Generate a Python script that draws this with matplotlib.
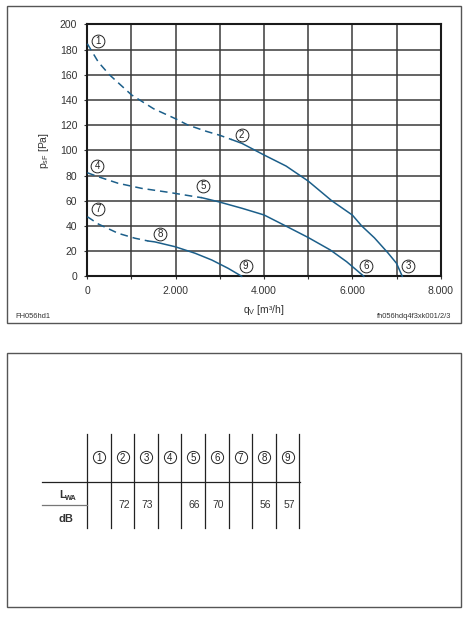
import matplotlib
matplotlib.use("Agg")
import matplotlib.pyplot as plt
from matplotlib.patches import Rectangle

plt.rcParams['font.family'] = ['Liberation Sans', 'DejaVu Sans']
plt.rcParams['mathtext.fontset'] = 'custom'
plt.rcParams['mathtext.rm'] = 'Liberation Sans'
plt.rcParams['mathtext.it'] = 'Liberation Sans:italic'
plt.rcParams['mathtext.bf'] = 'Liberation Sans:bold'

# ---- data ----
# curve 1-2-3
c1_dash_x = [0, 250, 500, 1000, 1500, 2000, 2280, 2700, 3000, 3268]
c1_dash_y = [184.6, 170.0, 160.0, 144.0, 133.0, 125.0, 120.0, 115.0, 111.9, 108.5]
c1_solid_x = [3268, 3500, 4000, 4500, 5000, 5532, 6000, 6211, 6500, 6800, 7000, 7130]
c1_solid_y = [108.5, 105.5, 96.3, 87.5, 75.6, 60.0, 48.6, 40.0, 30.5, 18.8, 10.3, 0]
# curve 4-5-6
c2_dash_x = [0, 250, 700, 1230, 1830, 2440, 2589]
c2_dash_y = [82.2, 79.0, 73.8, 69.8, 66.7, 63.2, 62.4]
c2_solid_x = [2589, 2966, 3500, 4000, 4500, 5000, 5500, 5870, 6260]
c2_solid_y = [62.4, 59.2, 54.0, 48.7, 39.8, 30.8, 20.9, 11.6, 0]
# curve 7-8-9
c3_dash_x = [0, 250, 700, 1080, 1381]
c3_dash_y = [47.3, 41.5, 34.1, 30.2, 28.0]
c3_solid_x = [1381, 1530, 1985, 2440, 2820, 3190, 3495]
c3_solid_y = [28.0, 27.3, 23.5, 18.3, 12.9, 6.3, 0]

# operating point labels
point_ids = ['1', '2', '3', '4', '5', '6', '7', '8', '9']
label_x = [249, 3496, 7268, 226, 2626, 6310, 235, 1653, 3585]
label_y = [186.5, 112.2, 8.5, 87.5, 71.7, 8.5, 53.2, 33.3, 8.2]

x_ticks = [0, 1000, 2000, 3000, 4000, 5000, 6000, 7000, 8000]
x_ticklabels = ['0', '', '2.000', '', '4.000', '', '6.000', '', '8.000']
y_ticks = [0, 20, 40, 60, 80, 100, 120, 140, 160, 180, 200]

# sound power table
lwa_values = ['', '72', '73', '', '66', '70', '', '56', '57']

CURVE_COLOR = '#1c5f8a'
TEXT_COLOR = '#333333'
W, H = 471, 620

fig = plt.figure(figsize=(W / 100, H / 100), dpi=100)

# background layer in pixel coordinates (frames + table)
bg = fig.add_axes([0, 0, 1, 1])
bg.set_xlim(0, W)
bg.set_ylim(H, 0)
bg.axis('off')

bg.add_patch(Rectangle((7, 6), 454, 317, fill=False, ec='#555555', lw=1.0))
bg.add_patch(Rectangle((7, 353), 454, 254, fill=False, ec='#555555', lw=1.0))

bg.text(15, 316, 'FH056hd1', fontsize=5.4, color=TEXT_COLOR, ha='left', va='center')
bg.text(451, 316, 'fh056hdq4f3xk001/2/3', fontsize=5.4, color=TEXT_COLOR, ha='right', va='center')

# table
col_lines = [87.3, 110.7, 134.3, 157.7, 181.3, 205, 228.7, 252.3, 276, 299.3]
for xl in col_lines:
    bg.plot([xl, xl], [434, 527.5], color='#222222', lw=0.9)
bg.plot([42, 300], [482.3, 482.3], color='#222222', lw=0.9)
bg.plot([42, 87.3], [504.7, 504.7], color='#777777', lw=0.9)
for i, (pid, val) in enumerate(zip(point_ids, lwa_values)):
    xc = (col_lines[i] + col_lines[i + 1]) / 2
    bg.plot(xc, 457.3, 'o', ms=8.8, mfc='none', mec='#222222', mew=0.7)
    bg.text(xc, 457.6, pid, fontsize=7, color='#222222', ha='center', va='center')
    if val:
        bg.text(xc + 1.5, 505.5, val, fontsize=7.5, color=TEXT_COLOR, ha='center', va='center')
bg.text(59.5, 495.5, 'L', fontsize=8, fontweight='bold', color=TEXT_COLOR, ha='left', va='center')
bg.text(65.3, 499.0, 'WA', fontsize=5.2, fontweight='bold', color=TEXT_COLOR, ha='left', va='center')
bg.text(66, 518.5, 'dB', fontsize=8, fontweight='bold', color=TEXT_COLOR, ha='center', va='center')

# chart
ax = fig.add_axes([87.3 / W, 1 - 276.3 / H, (440.7 - 87.3) / W, (276.3 - 24.3) / H])
ax.set_xlim(0, 8000)
ax.set_ylim(0, 200)
ax.set_xticks(x_ticks)
ax.set_xticklabels(x_ticklabels)
ax.set_yticks(y_ticks)
ax.grid(True, color='#3a3a3a', lw=1.1)
ax.set_axisbelow(True)
for s in ax.spines.values():
    s.set_linewidth(1.5)
    s.set_color('#1a1a1a')
ax.tick_params(length=2.2, width=0.8, color='#333333', labelsize=7.5, labelcolor=TEXT_COLOR, pad=3)
ax.tick_params(axis='x', pad=5)
ax.tick_params(axis='y', pad=5)

for dx, dy, sx, sy in [(c1_dash_x, c1_dash_y, c1_solid_x, c1_solid_y),
                       (c2_dash_x, c2_dash_y, c2_solid_x, c2_solid_y),
                       (c3_dash_x, c3_dash_y, c3_solid_x, c3_solid_y)]:
    ax.plot(dx, dy, color=CURVE_COLOR, lw=1.1, dashes=(5, 3.2), clip_on=False, zorder=3)
    ax.plot(sx, sy, color=CURVE_COLOR, lw=1.1, clip_on=False, zorder=3)

ax.plot(label_x, label_y, 'o', ms=9.2, mfc='white', mec='#222222', mew=0.7, ls='none', zorder=4, clip_on=False)
for pid, lx, ly in zip(point_ids, label_x, label_y):
    ax.text(lx, ly, pid, fontsize=7, color='#222222', ha='center', va='center', zorder=5)

ax.set_xlabel(r'q$_{\mathrm{V}}$ [m³/h]', fontsize=7.5, color=TEXT_COLOR, labelpad=5)
ax.set_ylabel(r'p$_{\mathrm{sF}}$ [Pa]', fontsize=7.5, color=TEXT_COLOR, labelpad=6)

fig.savefig('out.png', dpi=100)
